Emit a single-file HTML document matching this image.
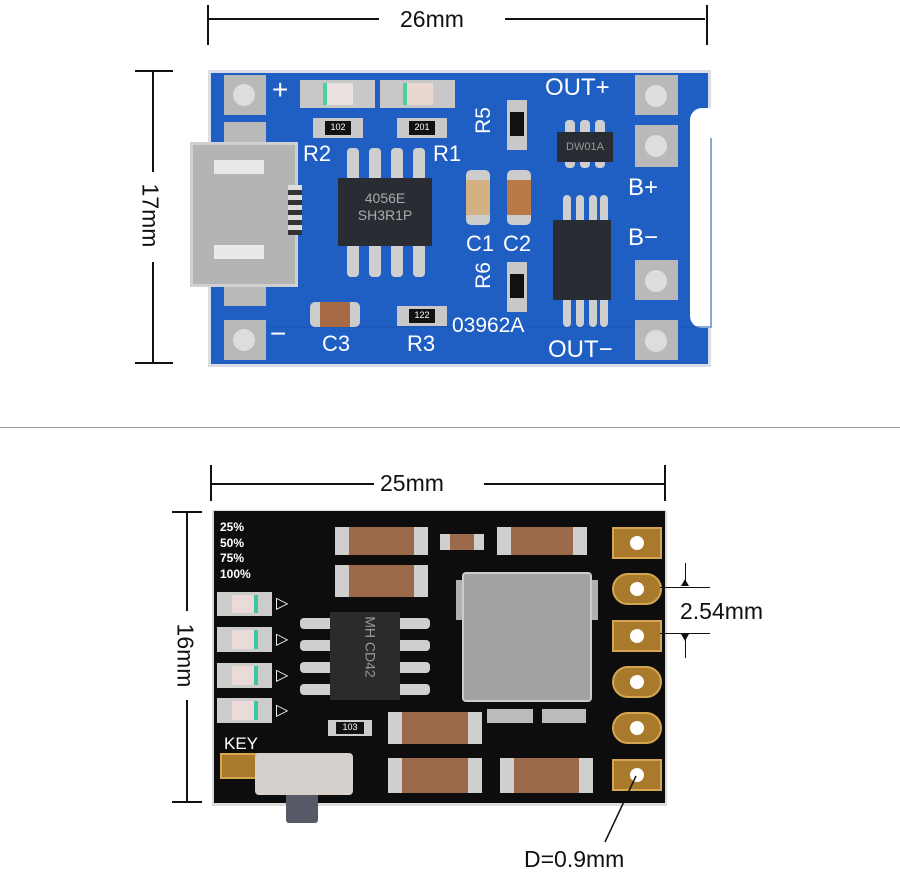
<!DOCTYPE html>
<html><head><meta charset="utf-8"><style>
body{margin:0;width:900px;height:873px;background:#fff;position:relative;overflow:hidden;font-family:"Liberation Sans",sans-serif}
div{position:absolute;box-sizing:border-box}
.t{color:#111;font-size:23px;white-space:nowrap}
.w{color:#fff;white-space:nowrap;line-height:1}
.pad{background:#b9b9b9}
.hole{background:#ddd;border-radius:50%}
.pin{background:#cfcfcf;border-radius:4px}
.gp{background:#a97a2c;border:2px solid #d4a652}
.gh{background:#fff;border-radius:50%;width:14px;height:14px}
.cap{background:#9a6a4a;border-left:14px solid #cfcfcf;border-right:14px solid #cfcfcf}
</style></head><body>
<!-- top dimensions -->
<div style="left:207px;top:5px;width:2px;height:40px;background:#111"></div>
<div style="left:706px;top:5px;width:2px;height:40px;background:#111"></div>
<div style="left:209px;top:18px;width:170px;height:2px;background:#111"></div>
<div style="left:505px;top:18px;width:200px;height:2px;background:#111"></div>
<div class="t" style="left:400px;top:6px">26mm</div>
<div style="left:135px;top:70px;width:38px;height:2px;background:#111"></div>
<div style="left:135px;top:362px;width:38px;height:2px;background:#111"></div>
<div style="left:152px;top:72px;width:2px;height:100px;background:#111"></div>
<div style="left:152px;top:262px;width:2px;height:100px;background:#111"></div>
<div class="t" style="left:118px;top:202px;transform:rotate(90deg)">17mm</div>

<!-- blue board -->
<div style="left:208px;top:70px;width:503px;height:297px;background:#1f5fc4;border:3px solid #d8dde6"></div>
<div style="left:690px;top:108px;width:24px;height:220px;background:#fff;border-radius:12px 0 0 12px"></div>
<div style="left:232px;top:138px;width:480px;height:190px;border:2px solid #1a54ad;border-left:none;border-top:none;opacity:.5"></div>
<!-- left pads -->
<div class="pad" style="left:224px;top:75px;width:42px;height:40px"></div><div class="hole" style="left:233px;top:84px;width:22px;height:22px"></div>
<div class="pad" style="left:224px;top:122px;width:42px;height:24px"></div>
<div class="pad" style="left:224px;top:276px;width:42px;height:30px"></div>
<div class="pad" style="left:224px;top:320px;width:42px;height:40px"></div><div class="hole" style="left:233px;top:329px;width:22px;height:22px"></div>
<!-- right pads -->
<div class="pad" style="left:635px;top:75px;width:43px;height:40px"></div><div class="hole" style="left:645px;top:85px;width:22px;height:22px"></div>
<div class="pad" style="left:635px;top:125px;width:43px;height:42px"></div><div class="hole" style="left:645px;top:135px;width:22px;height:22px"></div>
<div class="pad" style="left:635px;top:260px;width:43px;height:40px"></div><div class="hole" style="left:645px;top:270px;width:22px;height:22px"></div>
<div class="pad" style="left:635px;top:320px;width:43px;height:40px"></div><div class="hole" style="left:645px;top:330px;width:22px;height:22px"></div>
<!-- USB -->
<div style="left:190px;top:142px;width:108px;height:145px;background:#b4b4b4;border:3px solid #d0d0d0"></div>
<div style="left:214px;top:160px;width:50px;height:14px;background:#e8e8e8"></div>
<div style="left:214px;top:245px;width:50px;height:14px;background:#e8e8e8"></div>
<div style="left:288px;top:185px;width:14px;height:50px;background:repeating-linear-gradient(#ddd 0 5px,#333 5px 10px)"></div>
<!-- LEDs -->
<div style="left:300px;top:80px;width:75px;height:28px;background:#c8c8c8"></div><div style="left:323px;top:83px;width:30px;height:22px;background:#e9e2e0;border-left:4px solid #4bd0a0"></div>
<div style="left:380px;top:80px;width:75px;height:28px;background:#c8c8c8"></div><div style="left:403px;top:83px;width:30px;height:22px;background:#e9d8d0;border-left:4px solid #4bd0a0"></div>
<!-- resistors -->
<div style="left:313px;top:118px;width:50px;height:20px;background:#c8c8c8"></div><div class="w" style="left:325px;top:121px;width:26px;height:14px;background:#111;font-size:9px;text-align:center;padding-top:2px">102</div>
<div style="left:397px;top:118px;width:50px;height:20px;background:#c8c8c8"></div><div class="w" style="left:409px;top:121px;width:26px;height:14px;background:#111;font-size:9px;text-align:center;padding-top:2px">201</div>
<div style="left:507px;top:100px;width:20px;height:50px;background:#c8c8c8"></div><div style="left:510px;top:112px;width:14px;height:24px;background:#111"></div>
<div style="left:507px;top:262px;width:20px;height:50px;background:#c8c8c8"></div><div style="left:510px;top:274px;width:14px;height:24px;background:#111"></div>
<div style="left:397px;top:306px;width:50px;height:20px;background:#c8c8c8"></div><div class="w" style="left:409px;top:309px;width:26px;height:14px;background:#111;font-size:9px;text-align:center;padding-top:2px">122</div>
<!-- caps -->
<div style="left:466px;top:170px;width:24px;height:55px;background:#d4b184;border-top:10px solid #ccc;border-bottom:10px solid #ccc;border-radius:5px"></div>
<div style="left:507px;top:170px;width:24px;height:55px;background:#b87a48;border-top:10px solid #ccc;border-bottom:10px solid #ccc;border-radius:5px"></div>
<div style="left:310px;top:302px;width:50px;height:25px;background:#a86a44;border-left:10px solid #ccc;border-right:10px solid #ccc;border-radius:5px"></div>
<!-- 4056 chip -->
<div class="pin" style="left:347px;top:148px;width:12px;height:35px"></div><div class="pin" style="left:369px;top:148px;width:12px;height:35px"></div><div class="pin" style="left:391px;top:148px;width:12px;height:35px"></div><div class="pin" style="left:413px;top:148px;width:12px;height:35px"></div>
<div class="pin" style="left:347px;top:242px;width:12px;height:35px"></div><div class="pin" style="left:369px;top:242px;width:12px;height:35px"></div><div class="pin" style="left:391px;top:242px;width:12px;height:35px"></div><div class="pin" style="left:413px;top:242px;width:12px;height:35px"></div>
<div style="left:338px;top:178px;width:94px;height:68px;background:#2a2c33;color:#aaa;font-size:14px;text-align:center;padding-top:12px;line-height:17px">4056E<br>SH3R1P</div>
<!-- DW01 -->
<div class="pin" style="left:565px;top:120px;width:10px;height:48px"></div><div class="pin" style="left:580px;top:120px;width:10px;height:48px"></div><div class="pin" style="left:595px;top:120px;width:10px;height:48px"></div>
<div style="left:557px;top:132px;width:56px;height:30px;background:#2a2c33;color:#999;font-size:11px;text-align:center;padding-top:9px">DW01A</div>
<!-- 8205 -->
<div class="pin" style="left:563px;top:195px;width:8px;height:132px"></div><div class="pin" style="left:576px;top:195px;width:8px;height:132px"></div><div class="pin" style="left:589px;top:195px;width:8px;height:132px"></div><div class="pin" style="left:600px;top:195px;width:8px;height:132px"></div>
<div style="left:553px;top:220px;width:58px;height:80px;background:#2a2c33"></div>
<!-- labels -->
<div class="w" style="left:272px;top:76px;font-size:28px">+</div>
<div class="w" style="left:270px;top:320px;font-size:28px">−</div>
<div class="w" style="left:303px;top:143px;font-size:22px">R2</div>
<div class="w" style="left:433px;top:143px;font-size:22px">R1</div>
<div class="w" style="left:466px;top:233px;font-size:22px">C1</div>
<div class="w" style="left:503px;top:233px;font-size:22px">C2</div>
<div class="w" style="left:322px;top:333px;font-size:22px">C3</div>
<div class="w" style="left:407px;top:333px;font-size:22px">R3</div>
<div class="w" style="left:452px;top:315px;font-size:21px">03962A</div>
<div class="w" style="left:470px;top:110px;font-size:21px;transform:rotate(-90deg)">R5</div>
<div class="w" style="left:470px;top:265px;font-size:21px;transform:rotate(-90deg)">R6</div>
<div class="w" style="left:545px;top:76px;font-size:24px">OUT+</div>
<div class="w" style="left:548px;top:338px;font-size:24px">OUT−</div>
<div class="w" style="left:628px;top:176px;font-size:24px">B+</div>
<div class="w" style="left:628px;top:226px;font-size:24px">B−</div>

<!-- separator -->
<div style="left:0;top:427px;width:900px;height:1px;background:#999"></div>

<!-- bottom dimensions -->
<div style="left:210px;top:465px;width:2px;height:36px;background:#111"></div>
<div style="left:664px;top:465px;width:2px;height:36px;background:#111"></div>
<div style="left:212px;top:483px;width:162px;height:2px;background:#111"></div>
<div style="left:484px;top:483px;width:180px;height:2px;background:#111"></div>
<div class="t" style="left:380px;top:470px">25mm</div>
<div style="left:172px;top:511px;width:30px;height:2px;background:#111"></div>
<div style="left:172px;top:801px;width:30px;height:2px;background:#111"></div>
<div style="left:186px;top:513px;width:2px;height:98px;background:#111"></div>
<div style="left:186px;top:700px;width:2px;height:101px;background:#111"></div>
<div class="t" style="left:153px;top:642px;transform:rotate(90deg)">16mm</div>
<!-- black board -->
<div style="left:212px;top:510px;width:455px;height:296px;background:#dcdcdc"></div>
<div style="left:214px;top:511px;width:451px;height:292px;background:#0d0d0d"></div>
<!-- pads -->
<div class="gp" style="left:612px;top:527px;width:50px;height:32px"></div><div class="gh" style="left:630px;top:536px"></div>
<div class="gp" style="left:612px;top:573px;width:50px;height:32px;border-radius:16px"></div><div class="gh" style="left:630px;top:582px"></div>
<div class="gp" style="left:612px;top:620px;width:50px;height:32px"></div><div class="gh" style="left:630px;top:629px"></div>
<div class="gp" style="left:612px;top:666px;width:50px;height:32px;border-radius:16px"></div><div class="gh" style="left:630px;top:675px"></div>
<div class="gp" style="left:612px;top:712px;width:50px;height:32px;border-radius:16px"></div><div class="gh" style="left:630px;top:721px"></div>
<div class="gp" style="left:612px;top:759px;width:50px;height:32px"></div><div class="gh" style="left:630px;top:768px"></div>
<!-- inductor -->
<div style="left:456px;top:580px;width:142px;height:40px;background:#b0b0b0"></div>
<div style="left:462px;top:572px;width:130px;height:130px;background:#a3a3a3;border:2px solid #ccc;border-radius:4px"></div>
<!-- chip -->
<div class="pin" style="left:300px;top:618px;width:100px;height:11px"></div><div class="pin" style="left:300px;top:640px;width:100px;height:11px"></div><div class="pin" style="left:300px;top:662px;width:100px;height:11px"></div><div class="pin" style="left:300px;top:684px;width:100px;height:11px"></div>
<div class="pin" style="left:395px;top:618px;width:35px;height:11px"></div><div class="pin" style="left:395px;top:640px;width:35px;height:11px"></div><div class="pin" style="left:395px;top:662px;width:35px;height:11px"></div><div class="pin" style="left:395px;top:684px;width:35px;height:11px"></div>
<div style="left:330px;top:612px;width:70px;height:88px;background:#2b2b2b"></div>
<div class="w" style="left:340px;top:640px;color:#999;font-size:14px;transform:rotate(90deg)">MH CD42</div>
<!-- caps -->
<div class="cap" style="left:335px;top:527px;width:93px;height:28px"></div>
<div class="cap" style="left:335px;top:565px;width:93px;height:32px"></div>
<div class="cap" style="left:497px;top:527px;width:90px;height:28px"></div>
<div class="cap" style="left:440px;top:534px;width:44px;height:16px;border-width:0 10px"></div>
<div class="cap" style="left:388px;top:712px;width:94px;height:32px"></div>
<div class="cap" style="left:388px;top:758px;width:94px;height:35px"></div>
<div class="cap" style="left:500px;top:758px;width:93px;height:35px"></div>
<div style="left:487px;top:709px;width:46px;height:14px;background:#bbb"></div>
<div style="left:542px;top:709px;width:44px;height:14px;background:#bbb"></div>
<div style="left:328px;top:720px;width:44px;height:16px;background:#ccc"></div><div class="w" style="left:336px;top:722px;width:28px;height:12px;background:#111;font-size:9px;text-align:center;padding-top:1px">103</div>
<!-- LEDs -->
<div style="left:217px;top:592px;width:55px;height:24px;background:#ccc"></div><div style="left:232px;top:595px;width:26px;height:18px;background:#eadbd8;border-right:4px solid #3cc6a4"></div>
<div style="left:217px;top:627px;width:55px;height:25px;background:#ccc"></div><div style="left:232px;top:630px;width:26px;height:19px;background:#eadbd8;border-right:4px solid #3cc6a4"></div>
<div style="left:217px;top:663px;width:55px;height:25px;background:#ccc"></div><div style="left:232px;top:666px;width:26px;height:19px;background:#eadbd8;border-right:4px solid #3cc6a4"></div>
<div style="left:217px;top:698px;width:55px;height:25px;background:#ccc"></div><div style="left:232px;top:701px;width:26px;height:19px;background:#eadbd8;border-right:4px solid #3cc6a4"></div>
<div class="w" style="left:276px;top:596px;font-size:16px">▷</div>
<div class="w" style="left:276px;top:632px;font-size:16px">▷</div>
<div class="w" style="left:276px;top:668px;font-size:16px">▷</div>
<div class="w" style="left:276px;top:703px;font-size:16px">▷</div>
<div class="w" style="left:220px;top:520px;font-size:12px;font-weight:bold;line-height:15.5px">25%<br>50%<br>75%<br>100%</div>
<div class="w" style="left:224px;top:735px;font-size:17px">KEY</div>
<div class="gp" style="left:220px;top:753px;width:40px;height:26px"></div>
<!-- switch -->
<div style="left:255px;top:753px;width:98px;height:42px;background:#d6d0cc;border-radius:4px"></div>
<div style="left:286px;top:795px;width:32px;height:28px;background:#555a66;border-radius:0 0 3px 3px"></div>
<!-- annotations -->
<div style="left:660px;top:587px;width:50px;height:1px;background:#111"></div>
<div style="left:660px;top:633px;width:50px;height:1px;background:#111"></div>
<div style="left:685px;top:563px;width:1px;height:22px;background:#111"></div>
<div style="left:685px;top:636px;width:1px;height:22px;background:#111"></div>
<div class="t" style="left:680px;top:598px">2.54mm</div>
<svg style="position:absolute;left:0;top:0" width="900" height="873"><line x1="605" y1="842" x2="636" y2="776" stroke="#111" stroke-width="1.5"/><polygon points="681,586 689,586 685,579" fill="#111"/><polygon points="681,634 689,634 685,641" fill="#111"/></svg>
<div class="t" style="left:524px;top:846px">D=0.9mm</div>
</body></html>
